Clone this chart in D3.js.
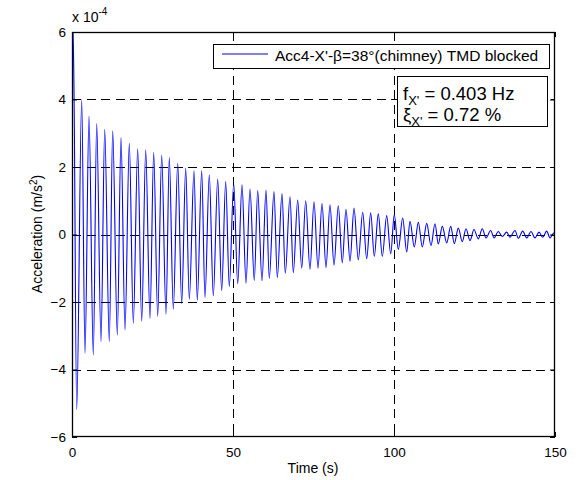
<!DOCTYPE html>
<html><head><meta charset="utf-8">
<script src="https://cdn.jsdelivr.net/npm/d3@7"></script>
<style>body{margin:0;background:#fff} text{font-family:"Liberation Sans",Arial,sans-serif;fill:#000}</style>
</head><body><svg id="c" width="578" height="480"></svg>
<script>
// time (s) of successive extremes of the record
const timeS = [0,0.40,1.46,3.01,4.04,5.28,6.61,7.67,9.01,10.16,11.58,12.64,14.07,15.22,16.46,17.80,19.04,20.40,21.65,22.89,24.22,
25.37,26.61,27.86,29.19,30.22,31.46,32.83,34.07,35.31,36.43,37.89,38.91,40.28,41.30,42.64,43.88,45.25,46.49,47.73,48.85,
50.22,51.46,52.80,54.04,55.28,56.61,57.67,59.01,60.25,61.27,62.73,63.76,65.22,66.24,67.70,68.73,70.09,71.34,72.58,73.91,
75.16,76.40,77.64,78.88,80.12,81.37,82.70,83.94,85.09,86.34,87.58,88.91,90.28,91.52,92.76,93.88,95.12,96.37,97.73,98.98,
100.09,101.34,102.70,103.94,104.97,106.30,107.55,108.79,110.16,111.49,112.73,113.76,115.00,116.37,117.61,118.73,119.97,121.21,
122.36,123.60,124.84,126.18,127.42,128.57,130.03,131.06,132.39,133.63,135.00,136.02,137.58,138.60,139.97,141.21,142.55,143.79,
145.03,146.18,147.42,148.45,149.69,150];
// acceleration (x 1e-4 m/s^2) at those times
const accel = [0.2,6.0,-5.19,4.0,-3.52,3.51,-3.57,3.29,-3.17,3.12,-3.17,3.07,-2.98,2.87,-2.83,2.70,-2.63,2.53,-2.57,2.50,-2.49,
2.43,-2.42,2.35,-2.36,2.28,-2.21,2.11,-2.05,1.97,-1.92,1.89,-1.95,1.89,-1.87,1.77,-1.82,1.64,-1.66,1.57,-1.54,
1.52,-1.46,1.47,-1.44,1.35,-1.36,1.30,-1.37,1.32,-1.30,1.27,-1.28,1.21,-1.15,1.12,-1.13,1.02,-1.00,1.00,-1.03,
0.97,-1.00,0.92,-0.98,0.88,-0.91,0.85,-0.84,0.75,-0.79,0.78,-0.75,0.66,-0.72,0.64,-0.65,0.61,-0.65,0.56,-0.57,
0.59,-0.44,0.49,-0.52,0.39,-0.37,0.36,-0.37,0.33,-0.33,0.32,-0.28,0.24,-0.25,0.24,-0.27,0.19,-0.21,
0.17,-0.18,0.15,-0.13,0.17,-0.10,0.12,-0.10,0.09,-0.06,0.07,-0.08,0.12,-0.11,0.10,-0.10,0.09,-0.10,
0.07,-0.08,0.10,-0.10,0.05,-0.02];
const xTicks = [0,50,100,150];
const yTicks = [-6,-4,-2,0,2,4,6];
const xGrid = [50,100];
const yGrid = [-4,-2,0,2,4];
const legendLabel = "Acc4-X'-\u03B2=38\u00B0(chimney) TMD blocked";

const svg = d3.select("#c");
const L=72,R=555,T=32,B=437;
const x = d3.scaleLinear().domain([0,150]).range([L,R]);
const y = d3.scaleLinear().domain([-6,6]).range([B,T]);

svg.append("defs").append("clipPath").attr("id","clip").append("rect")
  .attr("x",L).attr("y",T).attr("width",R-L).attr("height",B-T);

// grid
const g = svg.append("g").attr("stroke","#000").attr("stroke-width",1).attr("stroke-dasharray","9,5.5").attr("shape-rendering","crispEdges");
g.selectAll(".vx").data(xGrid).join("line").attr("x1",d=>Math.round(x(d))+0.5).attr("x2",d=>Math.round(x(d))+0.5).attr("y1",T).attr("y2",B);
g.selectAll(".hy").data(yGrid).join("line").attr("y1",d=>Math.round(y(d))+0.5).attr("y2",d=>Math.round(y(d))+0.5).attr("x1",L).attr("x2",R);

// data line
const line = d3.line().x((d,i)=>x(timeS[i])).y(d=>y(d)).curve(d3.curveMonotoneX);
svg.append("path").datum(accel).attr("clip-path","url(#clip)")
  .attr("fill","none").attr("stroke","#0000ff").attr("stroke-width",1.1).attr("d",line);

// axes
function styleAxis(sel){ sel.select(".domain").remove(); sel.selectAll("text").style("font-size","13.5px"); sel.selectAll("line").attr("stroke","#000"); }
svg.append("g").attr("transform",`translate(0,${B})`).call(d3.axisBottom(x).tickValues(xTicks).tickSizeInner(-5).tickSizeOuter(0).tickPadding(10)).call(styleAxis);
svg.append("g").attr("transform",`translate(0,${T})`).call(d3.axisTop(x).tickValues(xTicks).tickSizeInner(-5).tickSizeOuter(0).tickFormat("")).call(styleAxis);
svg.append("g").attr("transform",`translate(${L},0)`).call(d3.axisLeft(y).tickValues(yTicks).tickSizeInner(-5).tickSizeOuter(0).tickPadding(6)).call(styleAxis);
svg.append("g").attr("transform",`translate(${R},0)`).call(d3.axisRight(y).tickValues(yTicks).tickSizeInner(-5).tickSizeOuter(0).tickFormat("")).call(styleAxis);

// frame
svg.append("rect").attr("x",L+0.5).attr("y",T+0.5).attr("width",R-L-1).attr("height",B-T-1)
  .attr("fill","none").attr("stroke","#000").attr("stroke-width",1.3);

// exponent
const ex = svg.append("text").attr("x",72).attr("y",22).style("font-size","14px");
ex.append("tspan").text("x 10");
ex.append("tspan").attr("dy",-7).style("font-size","10px").text("-4");

// axis labels
svg.append("text").attr("x",313).attr("y",473).attr("text-anchor","middle").style("font-size","14px").text("Time (s)");
const yl = svg.append("text").attr("transform","translate(42,234) rotate(-90)").attr("text-anchor","middle").style("font-size","14px");
yl.append("tspan").text("Acceleration (m/s");
yl.append("tspan").attr("dy",-5).style("font-size","10px").text("2");
yl.append("tspan").attr("dy",5).text(")");

// legend
const lg = svg.append("g");
lg.append("rect").attr("x",213.5).attr("y",44.5).attr("width",336).attr("height",24).attr("fill","#fff").attr("stroke","#000");
lg.append("line").attr("x1",222).attr("x2",268).attr("y1",54).attr("y2",54).attr("stroke","#0000ff");
lg.append("text").attr("x",275).attr("y",61).style("font-size","15.5px").text(legendLabel);

// annotation box
const an = svg.append("g");
an.append("rect").attr("x",397.5).attr("y",76.5).attr("width",150).attr("height",50).attr("fill","#fff").attr("stroke","#000");
const t1 = an.append("text").attr("x",403).attr("y",100).style("font-size","18.5px");
t1.append("tspan").text("f");
t1.append("tspan").attr("dy",5).style("font-size","13px").text("X'");
t1.append("tspan").attr("dy",-5).text(" = 0.403 Hz");
const t2 = an.append("text").attr("x",403).attr("y",121).style("font-size","18.5px");
t2.append("tspan").text("\u03BE");
t2.append("tspan").attr("dy",5).style("font-size","13px").text("X'");
t2.append("tspan").attr("dy",-5).text(" = 0.72 %");
</script></body></html>
